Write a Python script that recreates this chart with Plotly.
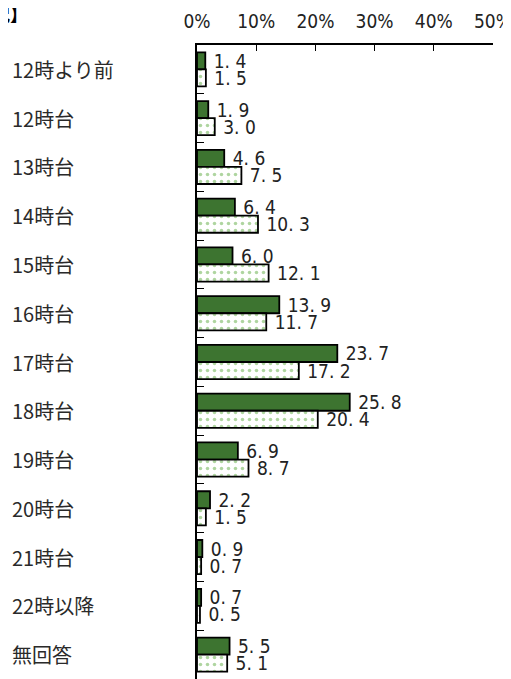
import plotly.graph_objects as go

categories = ["12時より前", "12時台", "13時台", "14時台", "15時台", "16時台", "17時台",
              "18時台", "19時台", "20時台", "21時台", "22時以降", "無回答"]
series_a = [1.4, 1.9, 4.6, 6.4, 6.0, 13.9, 23.7, 25.8, 6.9, 2.2, 0.9, 0.7, 5.5]
series_b = [1.5, 3.0, 7.5, 10.3, 12.1, 11.7, 17.2, 20.4, 8.7, 1.5, 0.7, 0.5, 5.1]
tick_vals = [0, 10, 20, 30, 40, 50]
tick_text = ["0%", "10%", "20%", "30%", "40%", "50%"]

# page has an 8px body margin: figure is shrunk so the plot lands where the reference has it
W, H = 503, 671
ML, MR, MT, MB = 189, 18, 37, 0

def fmt(v):
    s = f"{v:.1f}"
    return " " + s.replace(".", ". ")

NARROW = "Liberation Sans Narrow, DejaVu Sans Condensed, Noto Sans CJK JP"
num_font = dict(family=NARROW, size=19, color="#222")

fig = go.Figure()
fig.add_trace(go.Bar(
    y=categories, x=series_a, orientation="h", name="A",
    marker=dict(color="#3d7430", line=dict(color="#000", width=1.8)),
    text=[fmt(v) for v in series_a], textposition="outside", constraintext="none",
    textfont=num_font, cliponaxis=False,
))
fig.add_trace(go.Bar(
    y=categories, x=series_b, orientation="h", name="B",
    marker=dict(color="white", line=dict(color="#000", width=1.8),
                pattern=dict(shape=".", fgcolor="#5fab42", bgcolor="white",
                             size=7, solidity=0.2)),
    text=[fmt(v) for v in series_b], textposition="outside", constraintext="none",
    textfont=num_font, cliponaxis=False,
))

# left-aligned category labels
pw = W - ML - MR
for c in categories:
    fig.add_annotation(x=(2 - ML) / pw, xref="paper", y=c, yref="y",
                       text=c, showarrow=False, xanchor="left",
                       font=dict(family="Noto Sans CJK JP", size=20, color="#2a2a2a"))

fig.add_annotation(x=(22 - ML) / pw, xref="paper", y=1, yref="paper", yshift=MT + 10,
                   text="<b>況】</b>", showarrow=False, xanchor="right", yanchor="top",
                   font=dict(family="Noto Sans CJK JP", size=18, color="#000"))

fig.update_layout(
    width=W, height=H, margin=dict(l=ML, r=MR, t=MT, b=MB, pad=0, autoexpand=False),
    plot_bgcolor="white", paper_bgcolor="white",
    barmode="group", bargap=0.3, bargroupgap=0.0,
    showlegend=False,
    xaxis=dict(side="top", range=[0, 50], tickvals=tick_vals, ticktext=tick_text,
               automargin=False, ticklabelstandoff=8, ticklabeloverflow="allow",
               showgrid=False, zeroline=False, showline=True, linecolor="#000",
               linewidth=1.5, ticks="inside", ticklen=6, tickcolor="#000",
               tickfont=dict(family=NARROW, size=19, color="#222")),
    yaxis=dict(autorange="reversed", showticklabels=False, showgrid=False,
               automargin=False,
               showline=True, linecolor="#000", linewidth=1.5,
               ticks="inside", ticklen=7, tickcolor="#000", tickson="boundaries"),
)

fig.write_html("out.html")
